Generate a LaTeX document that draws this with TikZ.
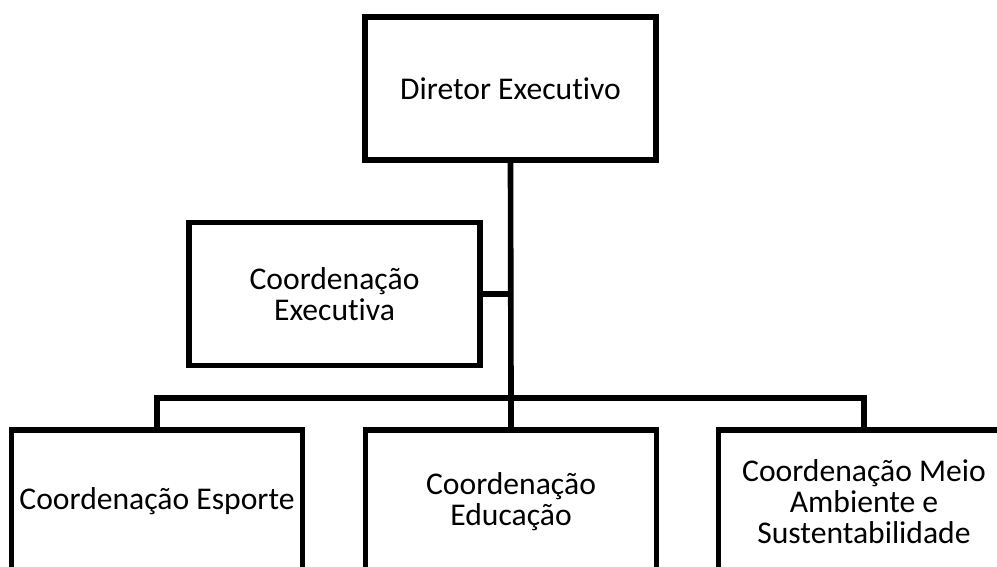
\documentclass[tikz,border=0pt]{standalone}
\usepackage{fontspec}
\setmainfont{Carlito}[Ligatures=NoCommon]
\usetikzlibrary{positioning,calc}

\begin{document}
\begin{tikzpicture}[x=0.02cm,y=-0.02cm,line width=3.2pt,
        box/.style={draw,align=center,minimum width=5.82cm,minimum height=2.86cm,
            font=\fontsize{18}{17.5}\selectfont}]
            \useasboundingbox (0,0) rectangle (997,567);
            \clip (0,0) rectangle (997,567);
            \node[box] (dir) at (510.5,88.5) {Diretor Executivo};
            \node[box] (exe) at (334.5,294) {Coordenação\\Executiva};
            \node[box] (esp) at (157,501.5) {Coordenação Esporte};
            \node[box] (edu) at (511,501.5) {Coordenação\\Educação};
            \node[box] (mei) at (864,501.5) {Coordenação Meio\\Ambiente e\\Sustentabilidade};
            \coordinate (bus) at (511,398);
            \draw (dir.south) -- (bus);
            \draw (exe.east) -- (exe.east -| bus);
            \draw (esp.north) |- (bus) -| (mei.north);
            \draw (edu.north) -- (bus);
    \end{tikzpicture}
\end{document}
